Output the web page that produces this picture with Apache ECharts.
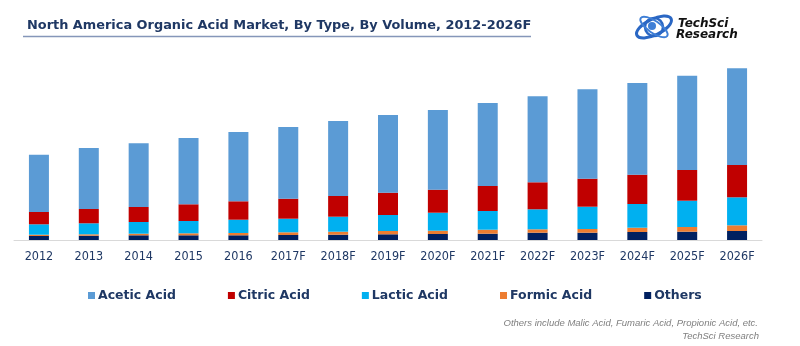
<!DOCTYPE html>
<html>
<head>
<meta charset="utf-8">
<script src="https://cdn.jsdelivr.net/npm/echarts@6/dist/echarts.min.js"></script>
<style>
html,body{margin:0;padding:0;background:#fff;}
#chart{width:800px;height:346px;}
</style>
</head>
<body>
<div id="chart"></div>
<script>
const titleText = 'North America Organic Acid Market, By Type, By Volume, 2012-2026F';
const categories = ['2012','2013','2014','2015','2016','2017F','2018F','2019F','2020F','2021F','2022F','2023F','2024F','2025F','2026F'];
const seriesNames = ['Acetic Acid','Citric Acid','Lactic Acid','Formic Acid','Others'];
const others = [4, 4.3, 4.7, 4.7, 4.7, 5, 5.3, 5.7, 6, 6.3, 7.3, 7.3, 8, 8.3, 9];
const formic = [1.3, 1.4, 1.6, 2, 2.3, 2.7, 3, 3.3, 3.3, 4, 3.4, 3.7, 4.3, 4.7, 5.7];
const lactic = [10.4, 11, 11.7, 12.3, 13.3, 13.6, 15, 16, 18, 18.7, 20, 22.3, 23.7, 26.3, 28];
const citric = [12.3, 14.3, 15, 16.7, 18.4, 20, 20.7, 22.3, 23, 25, 27, 28, 29.3, 30.7, 32.3];
const acetic = [57.3, 61, 63.7, 66.3, 69.3, 71.7, 75, 77.7, 79.7, 83, 86, 89.4, 91.7, 94.3, 96.7];
const footnote1 = 'Others include Malic Acid, Fumaric Acid, Propionic Acid, etc.';
const footnote2 = 'TechSci Research';

const colors = {
  'Acetic Acid': '#5b9bd5',
  'Citric Acid': '#c00000',
  'Lactic Acid': '#00b0f0',
  'Formic Acid': '#ed7d31',
  'Others': '#002060'
};
const navy = '#1f3864';

const chart = echarts.init(document.getElementById('chart'), null, {renderer: 'canvas'});

function bar(name, data) {
  return {
    name: name, type: 'bar', stack: 'total', data: data,
    barWidth: 20, itemStyle: {color: colors[name]},
    emphasis: {disabled: true}
  };
}

chart.setOption({
  animation: false,
  backgroundColor: '#ffffff',
  title: {
    text: titleText, left: 22, top: 13,
    textStyle: {fontFamily: 'DejaVu Sans', fontWeight: 'bold', fontSize: 12.9, color: navy, lineHeight: 15}
  },
  legend: {
    data: seriesNames, left: 83, top: 284,
    itemWidth: 7, itemHeight: 7, itemGap: 52, icon: 'rect',
    textStyle: {fontFamily: 'DejaVu Sans', fontWeight: 'bold', fontSize: 12.5, color: navy, padding: [0,0,0,-2]}
  },
  grid: {left: 14, right: 38, top: 40, bottom: 106, containLabel: false},
  xAxis: {
    type: 'category', data: categories,
    axisLine: {show: true, lineStyle: {color: '#d9d9d9', width: 1}},
    axisTick: {show: false},
    axisLabel: {interval: 0, fontFamily: 'DejaVu Sans Condensed', fontSize: 12.5, color: navy, margin: 10}
  },
  yAxis: {type: 'value', min: 0, max: 200, show: false, splitLine: {show: false}},
  series: [
    bar('Others', others),
    bar('Formic Acid', formic),
    bar('Lactic Acid', lactic),
    bar('Citric Acid', citric),
    bar('Acetic Acid', acetic)
  ],
  graphic: [
    {type: 'line', shape: {x1: 23, y1: 36.5, x2: 531, y2: 36.5}, style: {stroke: '#8596b9', lineWidth: 1.5}},
    // logo
    {type: 'group', x: 654, y: 27, children: [
      {type: 'circle', shape: {cx: 0, cy: 0, r: 9}, style: {fill: '#ffffff', stroke: '#2a67c4', lineWidth: 2.5}},
      {type: 'ellipse', shape: {cx: 0, cy: 0, rx: 19, ry: 8}, rotation: 0.45, style: {fill: null, stroke: '#2a67c4', lineWidth: 3}},
      {type: 'ellipse', shape: {cx: 0, cy: 0, rx: 16, ry: 6}, rotation: -0.6, style: {fill: null, stroke: '#3f7fd6', lineWidth: 2}},
      {type: 'circle', shape: {cx: -2, cy: -1, r: 4}, style: {fill: '#3f7fd6'}}
    ]},
    {type: 'text', x: 678, y: 24, style: {text: 'TechSci', font: 'italic bold 12px "DejaVu Sans"', fill: '#111111', textVerticalAlign: 'middle'}},
    {type: 'text', x: 676, y: 35, style: {text: 'Research', font: 'italic bold 12px "DejaVu Sans"', fill: '#111111', textVerticalAlign: 'middle'}},
    {type: 'text', right: 42, top: 318, style: {text: footnote1, font: 'italic 9.5px "Liberation Sans"', fill: '#808080', textAlign: 'right'}},
    {type: 'text', right: 41, top: 331, style: {text: footnote2, font: 'italic 9.5px "Liberation Sans"', fill: '#808080', textAlign: 'right'}}
  ]
});
</script>
</body>
</html>
